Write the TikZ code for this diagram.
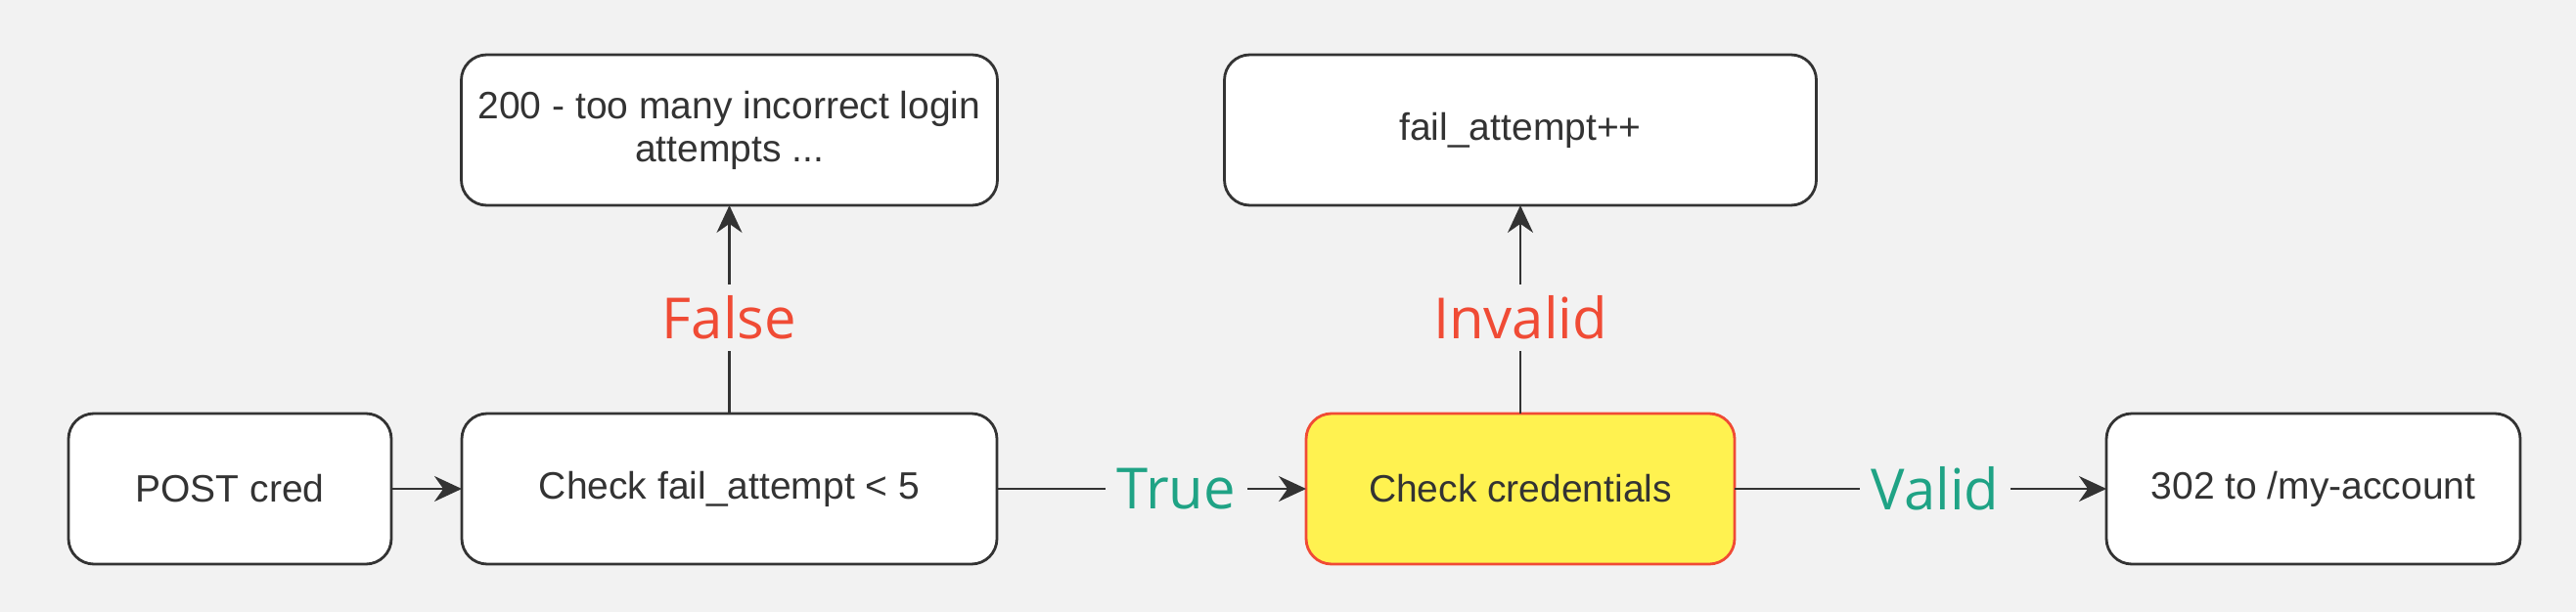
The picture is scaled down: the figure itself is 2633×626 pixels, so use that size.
\documentclass[tikz,border=0pt]{standalone}
\usepackage{fontspec}
\setmainfont{Liberation Sans}
\newfontfamily\labelfont{Open Sans}
\usetikzlibrary{arrows.meta,positioning}
\definecolor{canvas}{HTML}{F2F2F2}
\definecolor{ink}{HTML}{333333}
\definecolor{falsered}{HTML}{F04B35}
\definecolor{truegreen}{HTML}{1FA385}
\definecolor{hilite}{HTML}{FFF250}
\tikzset {
  % flow box
  flow box/.style = {
    draw = ink,
    fill = white,
    line width = 1.4pt,
    rectangle,
    rounded corners = 13pt,
    minimum height = 77pt,
    inner sep = 0pt,
    outer sep = 0pt,
    align = center,
    text = ink,
    font = \fontsize{19.5}{22}\selectfont
  },
  % highlighted box
  hot box/.style = {
    flow box,
    draw = falsered,
    fill = hilite
  },
  % connector
  arr/.style = {
    draw = ink,
    line width = 1.2pt,
    -{Stealth[length=14pt,width=13pt]}
  },
  % label sitting on a connector
  cond/.style = {
    fill = canvas,
    inner sep = 6pt,
    font = \labelfont\fontsize{29}{31}\selectfont
  },
  no/.style = {cond, text = falsered},
  yes/.style = {cond, text = truegreen}
}
\begin{document}
\begin{tikzpicture}[x=0.5pt, y=-0.5pt]
    \fill[canvas] (0,0) rectangle (2633,626);
    \useasboundingbox (0,0) rectangle (2633,626);

    \node[flow box, minimum width=165pt] (post) at (235,500) {POST cred};
    \node[flow box, minimum width=273.5pt] (check fail) [right=36pt of post] {Check fail\_attempt < 5};
    \node[hot box, minimum width=219pt] (check cred) [right=158pt of check fail] {Check credentials};
    \node[flow box, minimum width=211.5pt] (redirect) [right=190pt of check cred] {302 to /my-account};

    \node[flow box, minimum width=274pt] (too many) [above=106.5pt of check fail] {200 - too many incorrect login\\attempts ...};
    \node[flow box, minimum width=302.5pt] (inc fail) [above=106.5pt of check cred] {fail\_attempt++};

    % main line
    \draw[arr] (post) -- (check fail);
    \draw[arr] (check fail) -- node[yes, pos=0.58] {True} (check cred);
    \draw[arr] (check cred) -- node[yes, pos=0.54] {Valid} (redirect);

    % branches up
    \draw[arr] (check fail) -- node[no, pos=0.46] {False} (too many);
    \draw[arr] (check cred) -- node[no, pos=0.46] {Invalid} (inc fail);
\end{tikzpicture}
\end{document}
